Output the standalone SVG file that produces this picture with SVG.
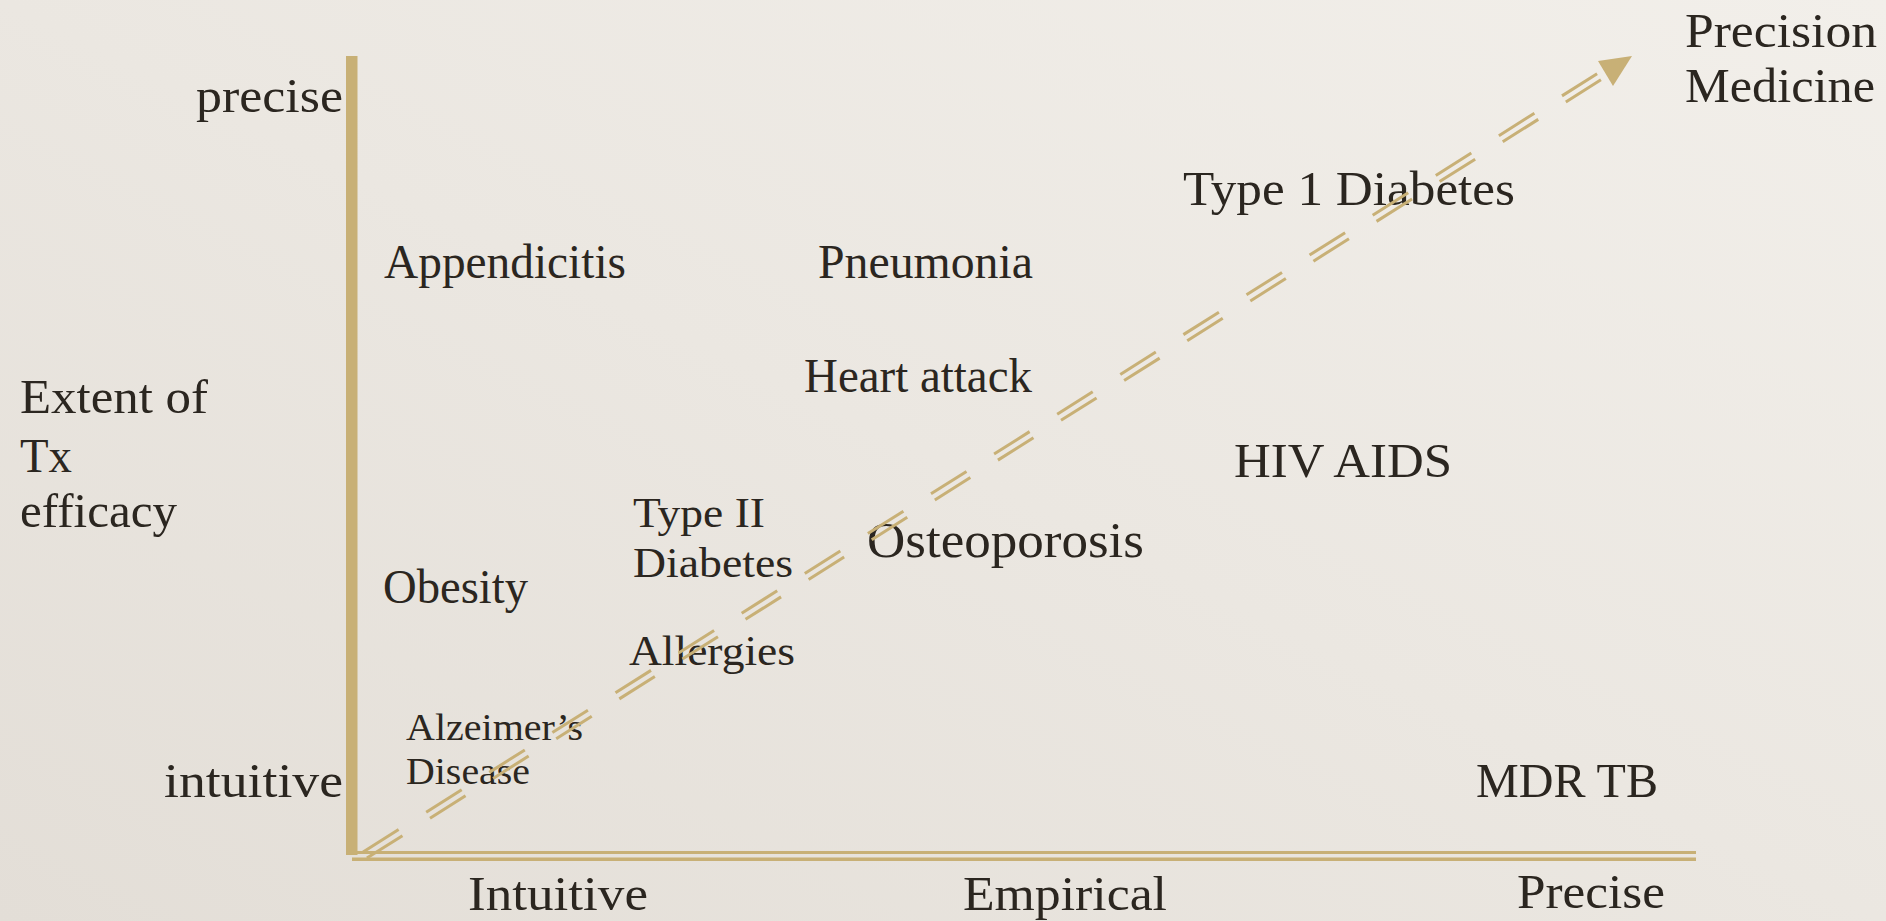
<svg xmlns="http://www.w3.org/2000/svg" width="1886" height="921" viewBox="0 0 1886 921">
  <defs>
    <linearGradient id="paper" x1="0" y1="1" x2="1" y2="0">
      <stop offset="0" stop-color="#e3ded7"/>
      <stop offset="0.5" stop-color="#ebe7e1"/>
      <stop offset="1" stop-color="#f2efea"/>
    </linearGradient>
    <style>
      .lbl { font-family: "Liberation Serif", "Times New Roman", serif; font-size: 48px; fill: #2b2620; }
      .mid { font-size: 43px; }
      .small { font-size: 38px; }
      .big { font-size: 51px; }
      .axis { fill: #c8b076; }
      .axis-line { stroke: #c8b076; fill: none; }
      .trend { stroke: #c8b076; stroke-width: 3; fill: none; stroke-dasharray: 42 32.6; stroke-linecap: butt; }
      .head { fill: #c8b076; }
    </style>
  </defs>

  <!-- paper background -->
  <rect x="0" y="0" width="1886" height="921" fill="url(#paper)"/>

  <!-- axes -->
  <g id="axes">
    <rect class="axis" x="346" y="56" width="11.5" height="799"/>
    <line class="axis-line" x1="352" y1="852.5" x2="1696" y2="852.5" stroke-width="3.2"/>
    <line class="axis-line" x1="352" y1="859.2" x2="1696" y2="859.2" stroke-width="3.6"/>
  </g>

  <!-- axis labels -->
  <g id="y-axis-title">
    <text class="lbl" x="20" y="413" textLength="188" lengthAdjust="spacingAndGlyphs">Extent of</text>
    <text class="lbl" x="20" y="472" textLength="52" lengthAdjust="spacingAndGlyphs">Tx</text>
    <text class="lbl" x="20" y="527" textLength="157" lengthAdjust="spacingAndGlyphs">efficacy</text>
  </g>
  <g id="y-top"><text class="lbl" x="196" y="112" textLength="147" lengthAdjust="spacingAndGlyphs">precise</text></g>
  <g id="y-bottom"><text class="lbl" x="164" y="797" textLength="179" lengthAdjust="spacingAndGlyphs">intuitive</text></g>
  <g id="x-intuitive"><text class="lbl" x="468" y="910" textLength="180" lengthAdjust="spacingAndGlyphs">Intuitive</text></g>
  <g id="x-empirical"><text class="lbl" x="963" y="910" textLength="204" lengthAdjust="spacingAndGlyphs">Empirical</text></g>
  <g id="x-precise"><text class="lbl" x="1517" y="908" textLength="148" lengthAdjust="spacingAndGlyphs">Precise</text></g>

  <!-- disease nodes -->
  <g id="precision-medicine">
    <text class="lbl" x="1685" y="47" textLength="192" lengthAdjust="spacingAndGlyphs">Precision</text>
    <text class="lbl" x="1685" y="102" textLength="190" lengthAdjust="spacingAndGlyphs">Medicine</text>
  </g>
  <g id="type1-diabetes"><text class="lbl" x="1183" y="205" textLength="332" lengthAdjust="spacingAndGlyphs">Type 1 Diabetes</text></g>
  <g id="appendicitis"><text class="lbl" x="384" y="278" textLength="242" lengthAdjust="spacingAndGlyphs">Appendicitis</text></g>
  <g id="pneumonia"><text class="lbl" x="818" y="278" textLength="215" lengthAdjust="spacingAndGlyphs">Pneumonia</text></g>
  <g id="heart-attack"><text class="lbl" x="804" y="392" textLength="228" lengthAdjust="spacingAndGlyphs">Heart attack</text></g>
  <g id="hiv-aids"><text class="lbl" x="1234" y="477" textLength="218" lengthAdjust="spacingAndGlyphs">HIV AIDS</text></g>
  <g id="osteoporosis"><text class="lbl big" x="867" y="557" textLength="277" lengthAdjust="spacingAndGlyphs">Osteoporosis</text></g>
  <g id="type2-diabetes">
    <text class="lbl mid" x="633" y="527" textLength="132" lengthAdjust="spacingAndGlyphs">Type II</text>
    <text class="lbl mid" x="633" y="577" textLength="160" lengthAdjust="spacingAndGlyphs">Diabetes</text>
  </g>
  <g id="allergies"><text class="lbl mid" x="629" y="665" textLength="166" lengthAdjust="spacingAndGlyphs">Allergies</text></g>
  <g id="obesity"><text class="lbl" x="383" y="603" textLength="145" lengthAdjust="spacingAndGlyphs">Obesity</text></g>
  <g id="alzheimers">
    <text class="lbl small" x="406" y="740" textLength="177" lengthAdjust="spacingAndGlyphs">Alzeimer’s</text>
    <text class="lbl small" x="406" y="784" textLength="124" lengthAdjust="spacingAndGlyphs">Disease</text>
  </g>
  <g id="mdr-tb"><text class="lbl" x="1476" y="797" textLength="182" lengthAdjust="spacingAndGlyphs">MDR TB</text></g>

  <!-- dashed double trend arrow toward precision medicine -->
  <g id="connectors">
    <line class="trend" x1="363.08" y1="851.95" x2="1597.08" y2="73.75"/>
    <line class="trend" x1="366.92" y1="858.05" x2="1600.92" y2="79.85"/>
    <polygon class="head" points="1632,56 1598,61 1613,86"/>
  </g>
</svg>
